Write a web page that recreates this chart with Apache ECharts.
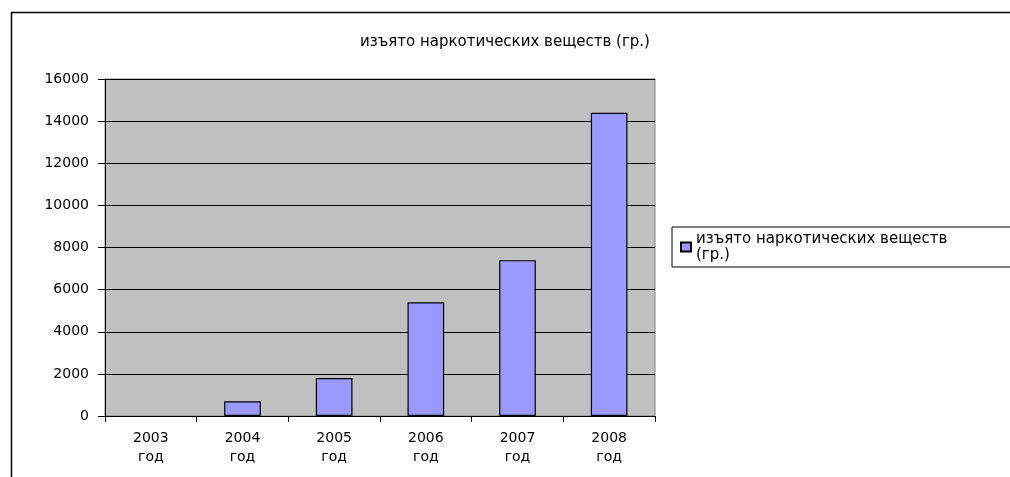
<!DOCTYPE html>
<html>
<head>
<meta charset="utf-8">
<script src="https://cdn.jsdelivr.net/npm/echarts@6/dist/echarts.min.js"></script>
<style>
html,body{margin:0;padding:0;background:#fff;}
#c{width:1010px;height:477px;}
</style>
</head>
<body>
<div id="c"></div>
<script>
const categories = ['2003\nгод', '2004\nгод', '2005\nгод', '2006\nгод', '2007\nгод', '2008\nгод'];
const seriesName = 'изъято наркотических веществ (гр.)';
const values = [0, 700, 1800, 5400, 7400, 14400];
const yTicks = { min: 0, max: 16000, interval: 2000 };

const chart = echarts.init(document.getElementById('c'), null, { renderer: 'canvas' });
const font = '"DejaVu Sans", sans-serif';
chart.setOption({
  animation: false,
  backgroundColor: '#fff',
  graphic: [{
    type: 'rect', left: 9, top: 10, silent: true, z: -1,
    shape: { width: 1100, height: 600 },
    style: { fill: 'none', stroke: '#000', lineWidth: 1.5 }
  }],
  title: {
    text: seriesName, left: 355, top: 30,
    textStyle: { fontFamily: font, fontSize: 15, fontWeight: 'normal', color: '#000' }
  },
  legend: {
    left: 672, top: 227, orient: 'vertical',
    data: [seriesName],
    icon: 'rect',
    formatter: () => 'изъято наркотических веществ\n(гр.)',
    itemWidth: 10, itemHeight: 9, itemGap: 0,
    padding: [4, 120, 4, 8],
    borderColor: '#000', borderWidth: 1,
    textStyle: { fontFamily: font, fontSize: 15, color: '#000', lineHeight: 16 }
  },
  grid: { left: 105, right: 355, top: 79, bottom: 61, containLabel: false,
          show: true, backgroundColor: '#C0C0C0', borderColor: '#808080', borderWidth: 1 },
  xAxis: {
    type: 'category', data: categories,
    axisLine: { show: true, lineStyle: { color: '#000', width: 1 } },
    axisTick: { show: true, alignWithLabel: false, length: 6, lineStyle: { color: '#000' } },
    axisLabel: { fontFamily: font, fontSize: 14, color: '#000', margin: 13, lineHeight: 19 }
  },
  yAxis: {
    type: 'value', min: yTicks.min, max: yTicks.max, interval: yTicks.interval,
    axisLine: { show: true, lineStyle: { color: '#000', width: 1 } },
    axisTick: { show: true, length: 7, lineStyle: { color: '#000' } },
    axisLabel: { fontFamily: font, fontSize: 14, color: '#000', margin: 16, formatter: v => String(v) },
    splitLine: { show: true, lineStyle: { color: '#000', width: 1 } }
  },
  series: [{
    name: seriesName, type: 'bar',
    data: values.map(v => v === 0 ? { value: v, itemStyle: { borderWidth: 0 } } : v),
    barWidth: '40%',
    itemStyle: { color: '#9999FF', borderColor: '#000', borderWidth: 1.2 }
  }]
});
</script>
</body>
</html>
